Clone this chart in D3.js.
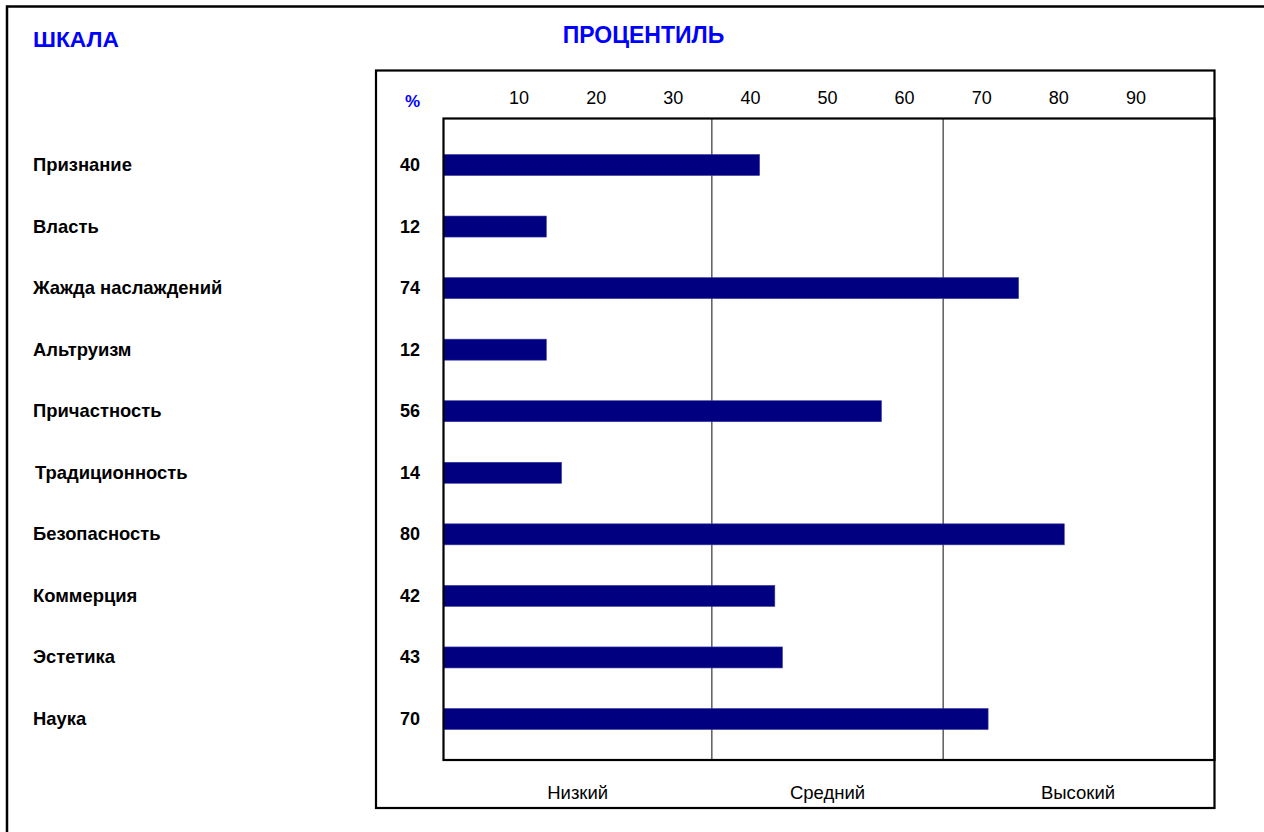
<!DOCTYPE html>
<html>
<head>
<meta charset="utf-8">
<script src="https://cdn.jsdelivr.net/npm/d3@7"></script>
<style>
  html, body { margin: 0; padding: 0; background: #fff; }
  svg { display: block; font-family: Arial, "Liberation Sans", sans-serif; }
</style>
</head>
<body>
<svg id="chart" width="1264" height="832"></svg>
<script>
// ---- data ----
const categories = ["Признание", "Власть", "Жажда наслаждений", "Альтруизм", "Причастность",
                    "Традиционность", "Безопасность", "Коммерция", "Эстетика", "Наука"];
const percentValues = [40, 12, 74, 12, 56, 14, 80, 42, 43, 70];
const tickValues = [10, 20, 30, 40, 50, 60, 70, 80, 90];
const zoneLabels = ["Низкий", "Средний", "Высокий"];
const zoneBounds = [0, 35, 65, 100];

// ---- layout ----
const svg = d3.select("#chart");
const plot = { left: 443.5, top: 118.5, right: 1214.5, bottom: 760 };
const box = { left: 376, top: 70.5, right: 1214.5, bottom: 808 };

// tick/zone scale
const x = d3.scaleLinear().domain([0, 100]).range([442, 1213]);
// bar length scale (bars in the original are drawn slightly offset from the tick labels)
const xBar = d3.scaleLinear().domain([-1.5, 100]).range([443.5, 1216.6]);
const y = d3.scalePoint().domain(categories).range([165, 719]);
const barH = 21;

// outer frame (right & bottom edges run off the page)
svg.append("rect").attr("x", 7).attr("y", 6.5).attr("width", 1400).attr("height", 1000)
  .attr("fill", "none").attr("stroke", "#000").attr("stroke-width", 2.5);

// titles
svg.append("text").attr("x", 33).attr("y", 47).text("ШКАЛА")
  .attr("fill", "#0000ff").attr("font-weight", "bold").attr("font-size", 22.8);
svg.append("text").attr("x", 643.5).attr("y", 42.5).attr("text-anchor", "middle").text("ПРОЦЕНТИЛЬ")
  .attr("fill", "#0000ff").attr("font-weight", "bold").attr("font-size", 23);

// inner box
svg.append("rect").attr("x", box.left).attr("y", box.top)
  .attr("width", box.right - box.left).attr("height", box.bottom - box.top)
  .attr("fill", "none").attr("stroke", "#000").attr("stroke-width", 2.2);

// % header
svg.append("text").attr("x", 420).attr("y", 107).attr("text-anchor", "end").text("%")
  .attr("fill", "#0000ff").attr("font-weight", "bold").attr("font-size", 17);

// tick labels (top)
svg.append("g").selectAll("text").data(tickValues).join("text")
  .attr("x", d => x(d)).attr("y", 104).attr("text-anchor", "middle")
  .attr("font-size", 18).attr("fill", "#000").text(d => d);

// zone divider lines
svg.append("g").selectAll("line").data(zoneBounds.slice(1, -1)).join("line")
  .attr("x1", d => x(d)).attr("x2", d => x(d))
  .attr("y1", plot.top).attr("y2", plot.bottom)
  .attr("stroke", "#333").attr("stroke-width", 1.2);

// bars
svg.append("g").selectAll("rect").data(categories).join("rect")
  .attr("x", plot.left)
  .attr("y", d => y(d) - barH / 2)
  .attr("width", (d, i) => xBar(percentValues[i]) - plot.left)
  .attr("height", barH)
  .attr("fill", "#000080")
  .attr("stroke", "#3a3aa0").attr("stroke-width", 0.6);

// plot frame
svg.append("rect").attr("x", plot.left).attr("y", plot.top)
  .attr("width", plot.right - plot.left).attr("height", plot.bottom - plot.top)
  .attr("fill", "none").attr("stroke", "#000").attr("stroke-width", 2.2);

// category labels
svg.append("g").selectAll("text").data(categories).join("text")
  .attr("x", d => d === "Традиционность" ? 35 : 33).attr("y", d => y(d) + 6)
  .attr("font-size", 18.4).attr("font-weight", "bold").attr("fill", "#000")
  .text(d => d);

// value labels
svg.append("g").selectAll("text").data(percentValues).join("text")
  .attr("x", 420).attr("y", (d, i) => y(categories[i]) + 6)
  .attr("text-anchor", "end")
  .attr("font-size", 18).attr("font-weight", "bold").attr("fill", "#000")
  .text(d => d);

// zone labels (bottom)
svg.append("g").selectAll("text").data(zoneLabels).join("text")
  .attr("x", (d, i) => (Math.max(x(zoneBounds[i]), plot.left) + Math.min(x(zoneBounds[i + 1]), plot.right)) / 2)
  .attr("y", 799).attr("text-anchor", "middle")
  .attr("font-size", 18.5).attr("fill", "#000")
  .text(d => d);
</script>
</body>
</html>
